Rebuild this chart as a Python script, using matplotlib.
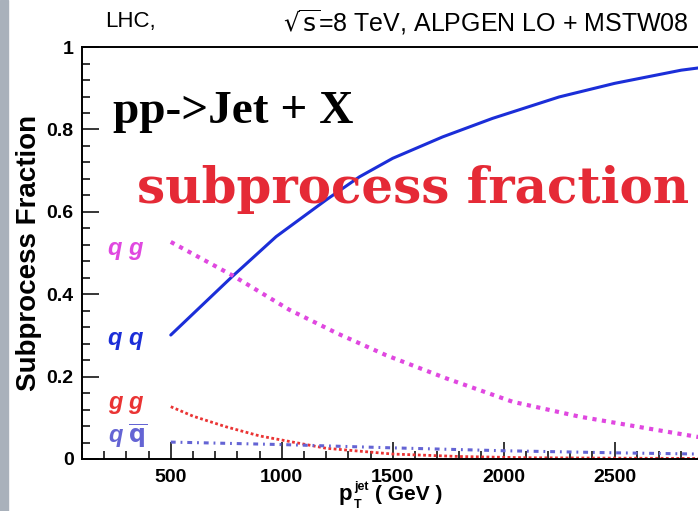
import matplotlib
matplotlib.use("Agg")
import matplotlib.pyplot as plt
from matplotlib.ticker import MultipleLocator
from matplotlib.patches import Rectangle

# subprocess fractions vs jet pT
pt_qq = [500, 775, 975, 1200, 1350, 1500, 1725, 1950, 2250, 2500, 2800, 3000]
frac_qq = [0.301, 0.442, 0.540, 0.629, 0.685, 0.730, 0.782, 0.827, 0.879, 0.912, 0.944, 0.958]

pt_qg = [500, 780, 1035, 1250, 1470, 1740, 2040, 2340, 2640, 2870, 3000]
frac_qg = [0.527, 0.445, 0.362, 0.305, 0.252, 0.196, 0.139, 0.103, 0.075, 0.054, 0.046]

pt_gg = [500, 600, 750, 900, 1000, 1200, 1500, 1800, 2100, 2500, 3000]
frac_gg = [0.127, 0.104, 0.078, 0.056, 0.046, 0.026, 0.012, 0.006, 0.003, 0.002, 0.001]

pt_qqbar = [500, 1000, 1500, 2000, 2500, 3000]
frac_qqbar = [0.041, 0.035, 0.027, 0.020, 0.015, 0.011]

C_QQ = "#1b2ed8"
C_QG = "#e048e0"
C_GG = "#ea3434"
C_QQBAR = "#6464d4"

SANS = ["Liberation Sans", "DejaVu Sans"]

W, H = 698, 511


def fx(px):
    return px / W


def fy(py):
    return 1 - py / H


fig = plt.figure(figsize=(6.98, 5.11), dpi=100)
fig.patches.append(Rectangle((0, 0), 0.011, 1, transform=fig.transFigure,
                             color="#a9b1bb", zorder=0))

ax = fig.add_axes([0.1175, 0.1018, 0.922, 0.806])
ax.set_xlim(100, 3000)
ax.set_ylim(0, 1)

ax.plot(pt_qq, frac_qq, color=C_QQ, lw=2.2, solid_capstyle="round")
ax.plot(pt_qg, frac_qg, color=C_QG, lw=3.0, linestyle=(0, (1, 1.3)))
ax.plot(pt_gg, frac_gg, color=C_GG, lw=2.0, linestyle=(0, (1, 0.9)))
ax.plot(pt_qqbar, frac_qqbar, color=C_QQBAR, lw=2.2, linestyle=(0, (1.6, 1.6, 0.6, 1.6)))

# ROOT-like axes
for s in ["left", "bottom", "top"]:
    ax.spines[s].set_linewidth(1.4)
ax.spines["right"].set_visible(False)
ax.xaxis.set_major_locator(MultipleLocator(500))
ax.xaxis.set_minor_locator(MultipleLocator(100))
ax.yaxis.set_major_locator(MultipleLocator(0.2))
ax.yaxis.set_minor_locator(MultipleLocator(0.04))
ax.tick_params(which="both", direction="in", width=1.1, labelsize=14)
ax.tick_params(which="major", length=12)
ax.tick_params(which="minor", length=6)
ax.tick_params(axis="x", pad=7)
ax.tick_params(axis="y", pad=6)
ax.set_xticks([500, 1000, 1500, 2000, 2500])
ax.set_yticks([0, 0.2, 0.4, 0.6, 0.8, 1.0])
ax.set_yticklabels(["0", "0.2", "0.4", "0.6", "0.8", "1"])
for lab in ax.get_xticklabels() + ax.get_yticklabels():
    lab.set_fontweight("bold")
    lab.set_family(SANS)

ax.set_ylabel("Subprocess Fraction", fontsize=20, fontweight="bold",
              family=SANS)
ax.yaxis.set_label_coords(-0.062, 0.5)

# x title: p_T^jet ( GeV ), built ROOT-style from pieces
fig.text(fx(339), fy(500), "p", fontsize=16, fontweight="bold", family=SANS,
         va="baseline")
fig.text(fx(354), fy(490), "jet", fontsize=9, fontweight="bold", family=SANS,
         va="baseline")
fig.text(fx(354), fy(508), "T", fontsize=9, fontweight="bold", family=SANS,
         va="baseline")
fig.text(fx(375), fy(500), "( GeV )", fontsize=15, fontweight="bold", family=SANS,
         va="baseline")

# curve labels
lab_kw = dict(fontsize=17, fontweight="bold", style="italic",
              family=SANS, transform=ax.transAxes, va="center")
ax.text(0.040, 0.512, "q g", color=C_QG, **lab_kw)
ax.text(0.040, 0.292, "q q", color=C_QQ, **lab_kw)
ax.text(0.040, 0.137, "g g", color=C_GG, **lab_kw)
ax.text(0.040, 0.056, r"q $\overline{\mathbf{q}}$", color=C_QQBAR, **lab_kw)

# header
fig.text(fx(105), fy(22), "LHC,", fontsize=16, family=SANS, va="center")
fig.text(fx(283), fy(22), r"$\sqrt{\mathrm{s}}$=8 TeV, ALPGEN LO + MSTW08",
         fontsize=18, family=SANS, va="center")

# overlay annotations
fig.text(fx(113), fy(112), "pp->Jet + X", fontsize=34, fontweight="bold",
         family="Liberation Serif", va="center")
fig.text(fx(137), fy(190), "subprocess fraction", fontsize=36,
         fontweight="bold", family="DejaVu Serif", color="#e52a36", va="center")

fig.savefig("out.png", dpi=100)
